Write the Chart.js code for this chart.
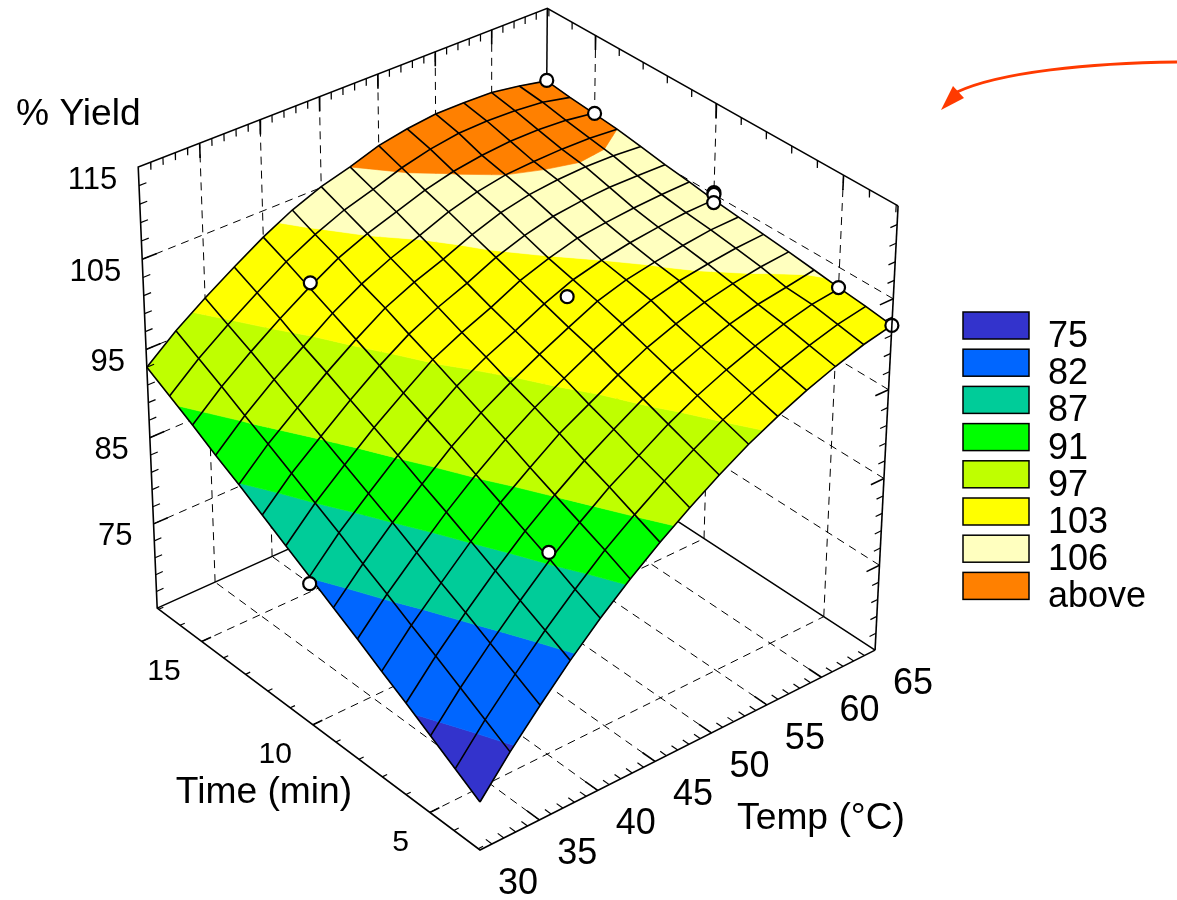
<!DOCTYPE html>
<html lang="en">
<head>
<meta charset="UTF-8">
<title>% Yield surface</title>
<style>
    html, body { margin: 0; padding: 0; background: #fff; overflow: hidden; }
    #wrap { position: relative; width: 1177px; height: 900px; }
</style>
<script src="https://cdn.jsdelivr.net/npm/chart.js"></script>
</head>
<body>
<div id="wrap"><canvas id="surface" width="1177" height="900"></canvas></div>
<script>
// Surface grid
const tempGrid = [30, 32.5, 35, 37.5, 40, 42.5, 45, 47.5, 50, 52.5, 55, 57.5, 60, 62.5, 65];
const timeGrid = [2.93, 3.94, 4.95, 5.96, 6.97, 7.98, 8.99, 10, 11.01, 12.02, 13.03, 14.04, 15.05, 16.06, 17.07];
// one row per time, one column per temp
const yieldGrid = [
    [70.5, 74.5, 78.1, 81.5, 84.6, 87.4, 89.9, 92.2, 94.3, 96.2, 97.8, 99.2, 100.4, 101.4, 102.1],
    [72.2, 76.1, 79.6, 82.9, 85.9, 88.7, 91.1, 93.3, 95.3, 97.1, 98.6, 99.9, 101.0, 101.9, 102.5],
    [73.9, 77.7, 81.1, 84.3, 87.3, 89.9, 92.3, 94.3, 96.3, 98.0, 99.4, 100.6, 101.6, 102.4, 102.8],
    [75.6, 79.3, 82.6, 85.7, 88.6, 91.1, 93.4, 95.4, 97.3, 98.9, 100.2, 101.3, 102.1, 102.6, 103.15],
    [77.2, 80.8, 84.0, 87.1, 89.9, 92.3, 94.6, 96.4, 98.2, 99.8, 101.0, 102.0, 102.7, 103.2, 103.5],
    [78.9, 82.4, 85.5, 88.5, 91.2, 93.6, 95.7, 97.5, 99.2, 100.7, 101.9, 102.7, 103.2, 103.6, 103.8],
    [80.5, 83.9, 87.0, 89.8, 92.5, 94.8, 96.7, 98.4, 100.0, 101.5, 102.5, 103.1, 103.6, 104.0, 104.1],
    [82.1, 85.5, 88.4, 91.2, 93.7, 96.0, 97.8, 99.3, 100.9, 102.2, 103.0, 103.6, 104.0, 104.3, 104.4],
    [83.7, 87.0, 89.8, 92.5, 94.9, 97.2, 98.8, 100.2, 101.8, 102.9, 103.8, 104.2, 104.5, 104.7, 104.8],
    [85.3, 88.5, 91.2, 93.8, 96.2, 98.3, 99.9, 101.2, 102.7, 103.8, 104.6, 105.0, 105.2, 105.2, 105.15],
    [86.9, 90.0, 92.6, 95.1, 97.4, 99.5, 101.0, 102.2, 103.6, 104.7, 105.4, 105.75, 105.9, 105.85, 105.6],
    [88.4, 91.4, 94.0, 96.3, 98.6, 100.5, 102.0, 103.2, 104.5, 105.4, 106.0, 106.2, 106.3, 106.25, 106.0],
    [90.0, 92.9, 95.4, 97.7, 99.8, 101.7, 103.1, 104.2, 105.3, 106.1, 106.6, 106.9, 106.9, 106.7, 106.25],
    [91.5, 94.3, 96.7, 98.9, 101.0, 102.7, 104.1, 105.1, 106.2, 107.0, 107.5, 107.6, 107.5, 107.2, 106.5],
    [93.0, 95.7, 98.0, 100.1, 102.1, 103.8, 105.1, 106.0, 107.1, 107.7, 108.1, 108.1, 108.0, 107.5, 106.85]
];

// Experimental runs
const runTemp = [65, 65, 65, 65, 65, 65, 65, 52, 40, 40, 30];
const runTime = [17.07, 15, 10, 10, 10, 5, 2.93, 10, 15, 5, 10];
const runYield = [106.9, 106.3, 105.2, 105.0, 104.1, 102.8, 102.1, 100.6, 100.4, 88.0, 81.3];

// Contour levels and legend
const levels = [75, 82, 87, 91, 97, 103, 106];
const bandColors = ['#3333CC', '#0066FF', '#00CC99', '#00FF00', '#BFFF00', '#FFFF00', '#FFFFBF', '#FF8000'];
const legendLabels = ['75', '82', '87', '91', '97', '103', '106', 'above'];

// Axis ticks
const tempMajor = [35, 40, 45, 50, 55, 60];
const tempLabels = [30, 35, 40, 45, 50, 55, 60, 65];
const tempMinor = [31, 32, 33, 34, 36, 37, 38, 39, 41, 42, 43, 44, 46, 47, 48, 49, 51, 52, 53, 54, 56, 57, 58, 59, 61, 62, 63, 64];
const timeMajor = [5, 10, 15];
const timeMinor = [3, 4, 6, 7, 8, 9, 11, 12, 13, 14, 16, 17];
const yieldMajor = [75, 85, 95, 105];
const yieldLabels = [75, 85, 95, 105, 115];
const yieldMinor = [67, 69, 71, 73, 77, 79, 81, 83, 87, 89, 91, 93, 97, 99, 101, 103, 107, 109, 111, 113];

const T0 = 30, T1 = 65, M0 = 2.93, M1 = 17.07, Y0 = 65, Y1 = 115;

// perspective projection of the box onto the flat x/y scales
function project(temp, time, yld) {
    const u = (temp - T0) / (T1 - T0);
    const v = (time - M0) / (M1 - M0);
    const w = (yld - Y0) / (Y1 - Y0);
    const d = 1 + 0.0606 * u + 0.0732 * v - 0.0589 * w;
    return {
        x: (480 + 448.1 * u - 311.3 * v - 28.5 * w) / d,
        y: (850 - 160.5 * u - 197.3 * v - 483.3 * w) / d
    };
}

let layers = [];

function addLine(points, width, dash) {
    layers.push({
        data: points.map(p => project(p[0], p[1], p[2])),
        showLine: true, fill: false, pointRadius: 0, tension: 0,
        borderColor: '#000', borderWidth: width, borderDash: dash || []
    });
}

const DASH = [8, 6];
const TEMP_TICK = 0.25, TIME_TICK = 0.2, YIELD_TICK = 0.8;

// Floor dashes
tempMajor.forEach(t => addLine([[t, M0, Y0], [t, M1, Y0]], 1, DASH));
timeMajor.forEach(m => addLine([[T0, m, Y0], [T1, m, Y0]], 1, DASH));
// Wall dashes
tempMajor.forEach(t => addLine([[t, M1, Y0], [t, M1, Y1]], 1, DASH));
timeMajor.forEach(m => addLine([[T1, m, Y0], [T1, m, Y1]], 1, DASH));
yieldMajor.forEach(y => {
    addLine([[T0, M1, y], [T1, M1, y]], 1, DASH);
    addLine([[T1, M0, y], [T1, M1, y]], 1, DASH);
});

// Box edges behind the surface
addLine([[T0, M1, Y0], [T1, M1, Y0], [T1, M0, Y0]], 1.5);
addLine([[T1, M1, Y0], [T1, M1, Y1]], 1.5);

// Keep the part of a cell above or below one level
function clipCell(poly, level, keepAbove) {
    let out = [];
    for (let i = 0; i < poly.length; i++) {
        let a = poly[i], b = poly[(i + 1) % poly.length];
        let aIn = keepAbove ? a[2] >= level : a[2] <= level;
        let bIn = keepAbove ? b[2] >= level : b[2] <= level;
        if (aIn) out.push(a);
        if (aIn !== bIn) {
            let f = (level - a[2]) / (b[2] - a[2]);
            out.push([a[0] + f * (b[0] - a[0]), a[1] + f * (b[1] - a[1]), level]);
        }
    }
    return out;
}

// Surface cells, cut into colour bands
for (let j = 0; j < timeGrid.length - 1; j++) {
    for (let i = 0; i < tempGrid.length - 1; i++) {
        let cell = [
            [tempGrid[i], timeGrid[j], yieldGrid[j][i]],
            [tempGrid[i + 1], timeGrid[j], yieldGrid[j][i + 1]],
            [tempGrid[i + 1], timeGrid[j + 1], yieldGrid[j + 1][i + 1]],
            [tempGrid[i], timeGrid[j + 1], yieldGrid[j + 1][i]]
        ];
        bandColors.forEach((color, k) => {
            let poly = cell;
            if (k > 0) poly = clipCell(poly, levels[k - 1], true);
            if (k < levels.length && poly.length) poly = clipCell(poly, levels[k], false);
            if (poly.length < 3) return;
            let pts = poly.map(p => project(p[0], p[1], p[2]));
            pts.push(pts[0]);
            layers.push({
                data: pts, showLine: true, pointRadius: 0, tension: 0,
                fill: 'shape', backgroundColor: color, borderColor: color, borderWidth: 0.6
            });
        });
    }
}

// Mesh lines
tempGrid.forEach((t, i) => addLine(timeGrid.map((m, j) => [t, m, yieldGrid[j][i]]), 1.6));
timeGrid.forEach((m, j) => addLine(tempGrid.map((t, i) => [t, m, yieldGrid[j][i]]), 1.6));

// Remaining box edges and ticks
addLine([[T1, M0, Y0], [T0, M0, Y0], [T0, M1, Y0], [T0, M1, Y1], [T1, M1, Y1], [T1, M0, Y1]], 1.6);

tempMinor.forEach(t => {
    addLine([[t, M0, Y0], [t, M0 + TEMP_TICK, Y0]], 1.2);
    addLine([[t, M1, Y1], [t, M1, Y1 - YIELD_TICK]], 1.2);
});
tempMajor.forEach(t => {
    addLine([[t, M0, Y0], [t, M0 + 2 * TEMP_TICK, Y0]], 1.6);
    addLine([[t, M1, Y1], [t, M1, Y1 - 2 * YIELD_TICK]], 1.6);
});
timeMinor.forEach(m => {
    addLine([[T0, m, Y0], [T0 + 2 * TIME_TICK, m, Y0]], 1.2);
    addLine([[T1, m, Y1], [T1, m, Y1 - YIELD_TICK]], 1.2);
});
timeMajor.forEach(m => {
    addLine([[T0, m, Y0], [T0 + 4 * TIME_TICK, m, Y0]], 1.6);
    addLine([[T1, m, Y1], [T1, m, Y1 - 2 * YIELD_TICK]], 1.6);
});
yieldMinor.forEach(y => {
    addLine([[T0, M1, y], [T0 + 3 * TIME_TICK, M1, y]], 1.2);
    addLine([[T1, M0, y], [T1 - 3 * TIME_TICK, M0, y]], 1.2);
});
yieldMajor.forEach(y => {
    addLine([[T0, M1, y], [T0 + 6 * TIME_TICK, M1, y]], 1.6);
    addLine([[T1, M0, y], [T1 - 6 * TIME_TICK, M0, y]], 1.6);
});

// Runs on the surface
layers.push({
    data: runTemp.map((t, i) => project(t, runTime[i], runYield[i])),
    showLine: false, pointRadius: 6.5, pointBackgroundColor: '#fff',
    pointBorderColor: '#000', pointBorderWidth: 2.2
});

// Right edge sits over the last run
addLine([[T1, M0, Y0], [T1, M0, Y1]], 1.6);

// first dataset ends up on top, so order runs backwards
layers.forEach((d, i) => { d.order = layers.length - i; d.clip = false; });

// Texts, legend boxes and the arrow
const overlayPlugin = {
    id: 'overlay',
    afterDraw(chart) {
        const ctx = chart.ctx, sx = chart.scales.x, sy = chart.scales.y;
        const px = p => ({ x: sx.getPixelForValue(p.x), y: sy.getPixelForValue(p.y) });
        ctx.save();
        ctx.fillStyle = '#000';
        ctx.textBaseline = 'middle';
        const FONT = '"Liberation Sans", Arial, sans-serif';

        ctx.font = '31px ' + FONT;
        ctx.textAlign = 'right';
        yieldLabels.forEach(y => {
            let p = px(project(T0, M1, y));
            ctx.fillText(String(y), p.x - 21, p.y + 13);
        });
        ctx.font = '30px ' + FONT;
        timeMajor.forEach(m => {
            let p = px(project(T0, m, Y0));
            ctx.fillText(String(m), p.x - 21, p.y + 30);
        });
        ctx.font = '36px ' + FONT;
        ctx.textAlign = 'center';
        tempLabels.forEach(t => {
            let p = px(project(t, M0, Y0));
            ctx.fillText(String(t), p.x + 38, p.y + 34);
        });
        ctx.font = '37.2px ' + FONT;
        ctx.fillText('Time (min)', 264, 793);
        ctx.fillText('Temp (°C)', 821, 819);
        ctx.textAlign = 'left';
        ctx.fillText('% Yield', 16, 115);

        // Legend
        ctx.font = '36px ' + FONT;
        legendLabels.forEach((label, i) => {
            let top = 312 + i * 37.2;
            ctx.fillStyle = bandColors[i];
            ctx.fillRect(963, top, 66, 27);
            ctx.strokeStyle = '#000';
            ctx.lineWidth = 1.5;
            ctx.strokeRect(963, top, 66, 27);
            ctx.fillStyle = '#000';
            ctx.fillText(label, 1048, top + 25);
        });

        // Arrow
        ctx.strokeStyle = '#FF3A00';
        ctx.fillStyle = '#FF3A00';
        ctx.lineWidth = 3;
        ctx.beginPath();
        ctx.moveTo(1177, 62);
        ctx.bezierCurveTo(1090, 63, 1000, 72, 957, 92);
        ctx.stroke();
        ctx.beginPath();
        ctx.moveTo(941, 110);
        ctx.lineTo(953, 86);
        ctx.lineTo(964, 98);
        ctx.closePath();
        ctx.fill();
        ctx.restore();
    }
};

new Chart(document.getElementById('surface').getContext('2d'), {
    type: 'scatter',
    data: { datasets: layers },
    options: {
        responsive: false,
        animation: false,
        events: [],
        layout: { padding: 0, autoPadding: false },
        scales: {
            x: { type: 'linear', min: 0, max: 1177, display: false },
            y: { type: 'linear', min: 0, max: 900, reverse: true, display: false }
        },
        plugins: { legend: { display: false }, tooltip: { enabled: false } }
    },
    plugins: [overlayPlugin]
});
</script>
</body>
</html>
